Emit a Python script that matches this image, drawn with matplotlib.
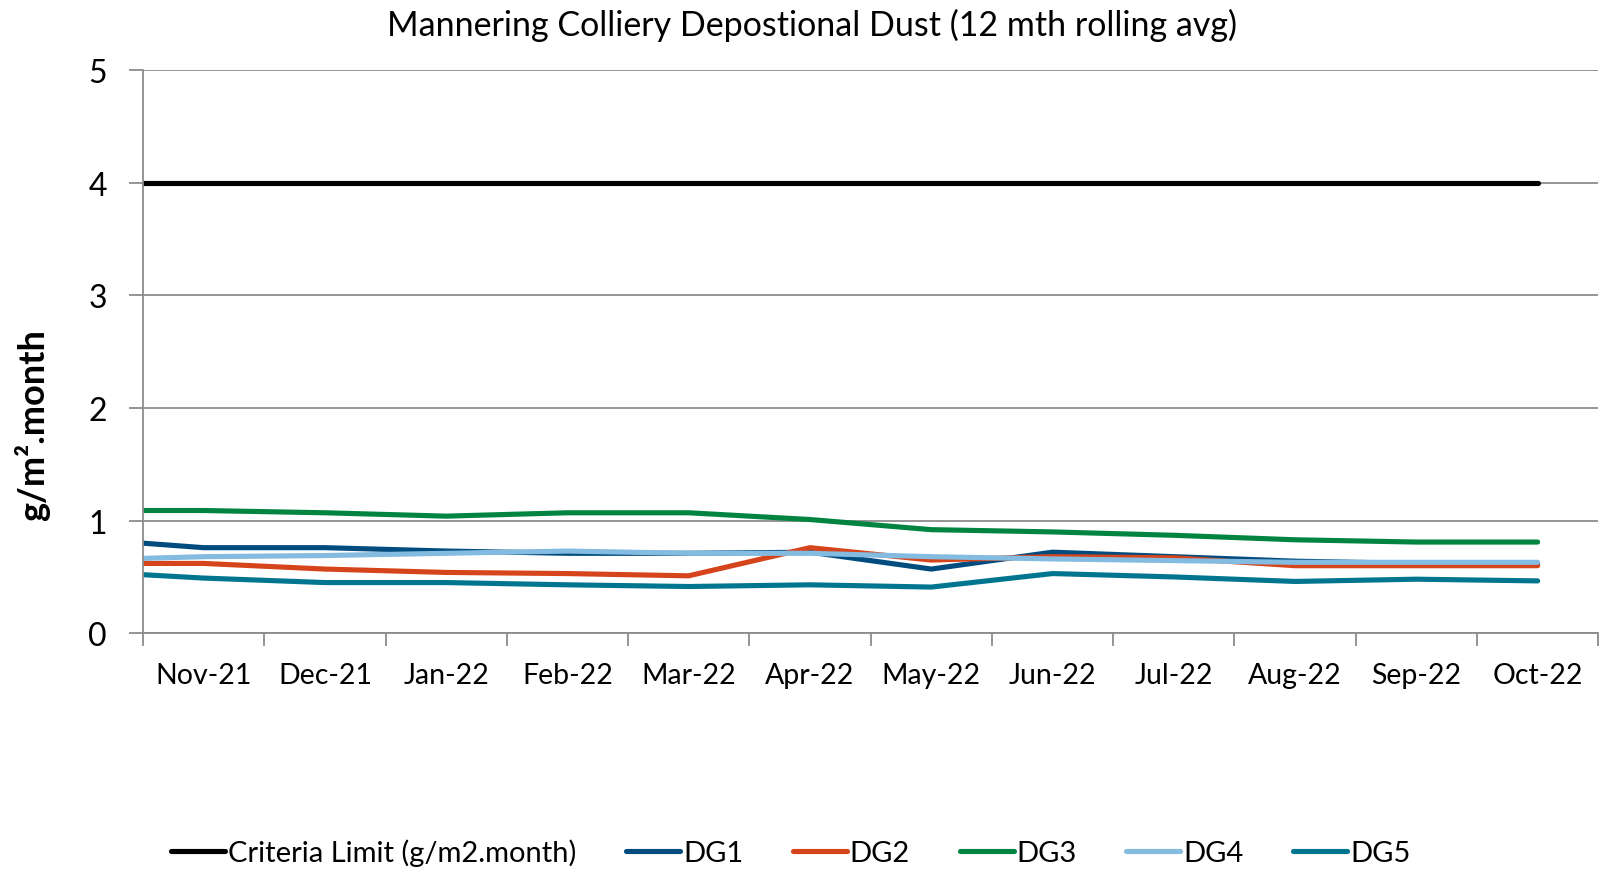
import matplotlib.pyplot as plt
import numpy as np

plt.rcParams['font.family'] = ['Lato', 'DejaVu Sans']

months = ["Nov-21", "Dec-21", "Jan-22", "Feb-22", "Mar-22", "Apr-22",
          "May-22", "Jun-22", "Jul-22", "Aug-22", "Sep-22", "Oct-22"]

# first value of each series sits on the y axis (lead-in point), then one per month
criteria = [4, 4, 4, 4, 4, 4, 4, 4, 4, 4, 4, 4, 4]
dg1 = [0.80, 0.76, 0.76, 0.73, 0.71, 0.71, 0.72, 0.57, 0.72, 0.68, 0.64, 0.62, 0.62]
dg2 = [0.62, 0.62, 0.57, 0.54, 0.53, 0.51, 0.76, 0.65, 0.68, 0.67, 0.60, 0.60, 0.60]
dg3 = [1.09, 1.09, 1.07, 1.04, 1.07, 1.07, 1.01, 0.92, 0.90, 0.87, 0.83, 0.81, 0.81]
dg4 = [0.665, 0.68, 0.69, 0.71, 0.73, 0.71, 0.71, 0.68, 0.66, 0.645, 0.63, 0.63, 0.63]
dg5 = [0.52, 0.49, 0.45, 0.45, 0.43, 0.415, 0.43, 0.41, 0.53, 0.50, 0.46, 0.48, 0.465]

labels = ["Criteria Limit (g/m2.month)", "DG1", "DG2", "DG3", "DG4", "DG5"]
series = [criteria, dg1, dg2, dg3, dg4, dg5]
colors = ["#000000", "#004C7F", "#D6441B", "#00843F", "#84BBE1", "#00758F"]

# lead-in point on the axis edge, then month centres
x = np.concatenate([[-0.5], np.arange(len(months))])

fig = plt.figure(figsize=(16.01, 8.70), dpi=100)
ax = fig.add_axes([0.0893, 0.271, 0.909, 0.647])

for vals, lab, col in zip(series, labels, colors):
    ax.plot(x, vals, color=col, linewidth=3.7, label=lab, solid_capstyle='round')

ax.set_xlim(-0.5, len(months) - 0.5)
ax.set_ylim(0, 5)
ax.set_yticks(range(0, 6))
ax.set_xticks(range(len(months)))
ax.set_xticklabels(months)
ax.set_xticks(np.arange(len(months) + 1) - 0.5, minor=True)
ax.tick_params(axis='x', which='major', length=0, pad=21, labelsize=20.5)
ax.tick_params(axis='x', which='minor', length=9, width=1.3, color='#8c8c8c')
ax.tick_params(axis='y', length=10, width=1.3, color='#8c8c8c', pad=16, labelsize=23)

ax.yaxis.grid(True, color='#8c8c8c', linewidth=1.3)
ax.set_axisbelow(True)
for s in ['top', 'right']:
    ax.spines[s].set_visible(False)
for s in ['left', 'bottom']:
    ax.spines[s].set_color('#8c8c8c')
    ax.spines[s].set_linewidth(1.3)

ax.set_ylabel("g/m².month", fontsize=26, fontweight='bold')
ax.yaxis.set_label_coords(-0.064, 0.372)
fig.text(0.507, 0.971, "Mannering Colliery Depostional Dust (12 mth rolling avg)",
         fontsize=24.5, ha='center', va='center')

fig.legend(loc='center', bbox_to_anchor=(0.494, 0.019), ncol=6, frameon=False,
           fontsize=21, handlelength=1.85, handletextpad=0.1, columnspacing=1.7)

fig.savefig("out.png", dpi=100)
